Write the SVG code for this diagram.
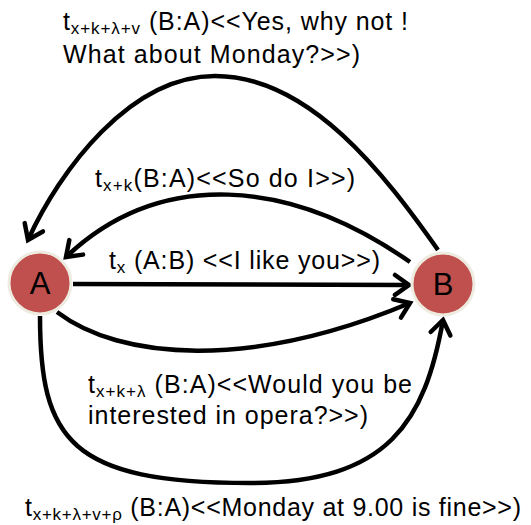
<svg xmlns="http://www.w3.org/2000/svg" width="531" height="525" viewBox="0 0 531 525">
<defs>
<style>
.lbl{font-family:"Liberation Sans",Arial,sans-serif;font-size:25px;fill:#000}
.sub{font-size:17px}
.node{fill:#C0504D;stroke:#EEECE1;stroke-width:3}
.ntxt{font-family:"Liberation Sans",Arial,sans-serif;font-size:31px;fill:#000;text-anchor:middle}
.edge{fill:none;stroke:#000;stroke-width:4.5}
</style>
<marker id="arr" markerUnits="userSpaceOnUse" markerWidth="26" markerHeight="26" viewBox="-17 -13 21 26" refX="0" refY="0" orient="auto">
<path d="M -14,-10 L 0,0 L -14,10" fill="none" stroke="#000" stroke-width="4.5" stroke-linecap="round" stroke-linejoin="miter"/>
</marker>
</defs>
<rect width="531" height="525" fill="#fff"/>
<g id="connectors">
<path class="edge" d="M 73,284 L 409,285" marker-end="url(#arr)"/>
<path class="edge" d="M 410,262 C 290,178 160,168 66,257" marker-end="url(#arr)"/>
<path class="edge" d="M 438,250 C 385,175 310,76 215,76 C 130,76 60,170 28,240" marker-end="url(#arr)"/>
<path class="edge" d="M 57,312 C 120,360 250,370 410,303" marker-end="url(#arr)"/>
<path class="edge" d="M 40,316 C 40,440 70,483 250,483 C 390,483 425,420 443,320" marker-end="url(#arr)"/>
</g>
<g id="node-A">
<circle class="node" cx="40" cy="283" r="31"/>
<text class="ntxt" x="40" y="294">A</text>
</g>
<g id="node-B">
<circle class="node" cx="443" cy="284" r="31"/>
<text class="ntxt" x="443" y="295">B</text>
</g>
<g id="labels">
<text class="lbl" x="63" y="30" textLength="345" lengthAdjust="spacing">t<tspan class="sub" dy="4">x+k+λ+v</tspan><tspan dy="-4"> (B:A)&lt;&lt;Yes, why not !</tspan></text>
<text class="lbl" x="63" y="63" textLength="297" lengthAdjust="spacing">What about Monday?&gt;&gt;)</text>
<text class="lbl" x="95" y="187" textLength="260" lengthAdjust="spacing">t<tspan class="sub" dy="4">x+k</tspan><tspan dy="-4">(B:A)&lt;&lt;So do I&gt;&gt;)</tspan></text>
<text class="lbl" x="109" y="269" textLength="271" lengthAdjust="spacing">t<tspan class="sub" dy="4">x</tspan><tspan dy="-4"> (A:B) &lt;&lt;I like you&gt;&gt;)</tspan></text>
<text class="lbl" x="88" y="393" textLength="324" lengthAdjust="spacing">t<tspan class="sub" dy="4">x+k+λ</tspan><tspan dy="-4"> (B:A)&lt;&lt;Would you be</tspan></text>
<text class="lbl" x="88" y="424" textLength="280" lengthAdjust="spacing">interested in opera?&gt;&gt;)</text>
<text class="lbl" x="25" y="516" textLength="496" lengthAdjust="spacing">t<tspan class="sub" dy="4">x+k+λ+v+ρ</tspan><tspan dy="-4"> (B:A)&lt;&lt;Monday at 9.00 is fine&gt;&gt;)</tspan></text>
</g>
</svg>
